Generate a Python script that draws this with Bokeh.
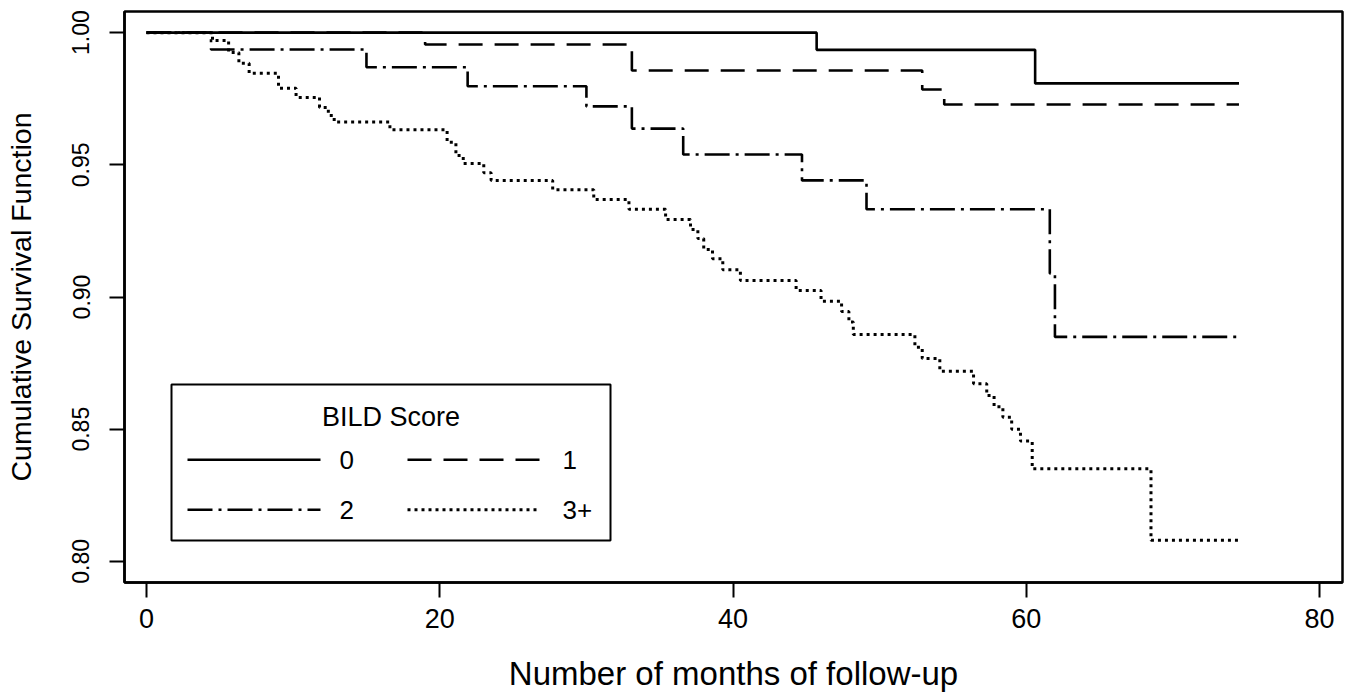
from bokeh.plotting import figure
from bokeh.models import Range1d, FixedTicker, PrintfTickFormatter, Label, BoxAnnotation, Arrow
from bokeh.embed import file_html
from bokeh.resources import INLINE

# ---- data ----
t_score0 = [0.0, 45.7, 60.6, 74.5]
s_score0 = [1.0, 0.9935, 0.9808, 0.9808]

t_score1 = [0.0, 19.0, 33.1, 52.9, 54.4, 74.5]
s_score1 = [1.0, 0.9955, 0.9857, 0.9785, 0.9728, 0.9728]

t_score2 = [0.0, 4.4, 15.0, 21.9, 30.0, 33.1, 36.6, 44.7, 49.1, 61.6, 61.95, 74.5]
s_score2 = [1.0, 0.9936, 0.9869, 0.9797, 0.9721, 0.9637, 0.9539, 0.9441, 0.9332, 0.9089, 0.8849, 0.8849]

t_score3 = [0.0, 4.5, 5.6, 6.3, 7.0, 9.0, 10.2, 11.8, 12.4, 12.8, 16.6, 20.5, 21.1, 21.6,
            23.0, 23.5, 27.7, 30.5, 32.9, 35.4, 37.1, 37.6, 38.0, 38.6, 39.3, 40.5, 44.3,
            46.0, 47.4, 47.9, 48.2, 52.4, 52.9, 54.1, 56.4, 57.3, 57.8, 58.4, 59.0, 59.6,
            60.4, 68.5, 74.5]
s_score3 = [1.0, 0.9970, 0.9925, 0.9884, 0.9846, 0.9790, 0.9755, 0.9717, 0.9687, 0.9662,
            0.9633, 0.9585, 0.9535, 0.9505, 0.9470, 0.9441, 0.9406, 0.9369, 0.9332, 0.9293,
            0.9255, 0.9221, 0.9180, 0.9145, 0.9103, 0.9062, 0.9025, 0.8984, 0.8945, 0.8905,
            0.8858, 0.8810, 0.8767, 0.8719, 0.8672, 0.8627, 0.8585, 0.8545, 0.8500, 0.8455,
            0.8350, 0.8080, 0.8080]

x_ticks = [0, 20, 40, 60, 80]
y_ticks = [0.80, 0.85, 0.90, 0.95, 1.00]
legend_labels = ["0", "1", "2", "3+"]
legend_title = "BILD Score"
x_title = "Number of months of follow-up"
y_title = "Cumulative Survival Function"

FONT = "Liberation Sans"
dashes = ["solid", "24 12", "25 6 3 6", "3 4"]
widths = [2.6, 2.6, 2.6, 3.0]

p = figure(width=1353, height=698,
           x_range=Range1d(-1.5, 81.56), y_range=Range1d(0.792, 1.008),
           output_backend="svg", toolbar_location=None,
           min_border_left=124, min_border_right=11, min_border_top=11, min_border_bottom=116)
p.xgrid.visible = False
p.ygrid.visible = False
p.outline_line_color = "black"
p.outline_line_width = 2.5
p.outline_line_alpha = 1.0
p.background_fill_color = "white"
p.border_fill_color = "white"

series = [(t_score0, s_score0), (t_score1, s_score1), (t_score2, s_score2), (t_score3, s_score3)]
for (t, s), d, w in zip(series, dashes, widths):
    p.step(t, s, mode="after", line_color="black", line_width=w, line_dash=d)

xa = p.xaxis[0]
xa.ticker = FixedTicker(ticks=x_ticks)
xa.axis_label = x_title
xa.axis_label_text_font = FONT
xa.axis_label_text_font_size = "33px"
xa.axis_label_text_font_style = "normal"
xa.axis_label_text_color = "black"
xa.axis_label_standoff = 24
xa.major_label_text_font = FONT
xa.major_label_text_font_size = "27px"
xa.major_label_text_color = "black"
xa.major_label_standoff = 11
xa.major_tick_out = 15
xa.major_tick_in = 0
xa.minor_tick_out = 0
xa.minor_tick_in = 0
xa.major_tick_line_width = 2
xa.major_tick_line_color = "black"
xa.axis_line_width = 2.5
xa.axis_line_color = "black"

ya = p.yaxis[0]
ya.ticker = FixedTicker(ticks=y_ticks)
ya.formatter = PrintfTickFormatter(format="%.2f")
ya.major_label_orientation = "vertical"
ya.axis_label = y_title
ya.axis_label_text_font = FONT
ya.axis_label_text_font_size = "28.5px"
ya.axis_label_text_font_style = "normal"
ya.axis_label_text_color = "black"
ya.axis_label_standoff = 33
ya.major_label_text_font = FONT
ya.major_label_text_font_size = "23px"
ya.major_label_text_color = "black"
ya.major_label_standoff = 20
ya.major_tick_out = 15
ya.major_tick_in = 0
ya.minor_tick_out = 0
ya.minor_tick_in = 0
ya.major_tick_line_width = 2
ya.major_tick_line_color = "black"
ya.axis_line_width = 2.5
ya.axis_line_color = "black"

# ---- legend (screen units relative to plot frame) ----
p.add_layout(BoxAnnotation(left=47, right=486, bottom=42, top=198,
                           left_units="screen", right_units="screen",
                           top_units="screen", bottom_units="screen",
                           fill_color="white", fill_alpha=1.0,
                           line_color="black", line_width=2, line_alpha=1.0))
p.add_layout(Label(x=266.5, y=166, x_units="screen", y_units="screen", text=legend_title,
                   text_font=FONT, text_font_size="27px", text_color="black",
                   text_align="center", text_baseline="middle"))
rows_y = [122.7, 122.7, 72.7, 72.7]
line_x0 = [63, 283, 63, 283]
line_x1 = [196, 416, 196, 416]
label_x = [215, 438, 215, 438]
for i, lab in enumerate(legend_labels):
    p.add_layout(Arrow(end=None, x_start=line_x0[i], y_start=rows_y[i], x_end=line_x1[i], y_end=rows_y[i],
                       start_units="screen", end_units="screen",
                       line_color="black", line_width=widths[i], line_dash=dashes[i]))
    p.add_layout(Label(x=label_x[i], y=rows_y[i], x_units="screen", y_units="screen", text=lab,
                       text_font=FONT, text_font_size="26px", text_color="black",
                       text_align="left", text_baseline="middle"))

open("out.html", "w").write(file_html(p, INLINE))
